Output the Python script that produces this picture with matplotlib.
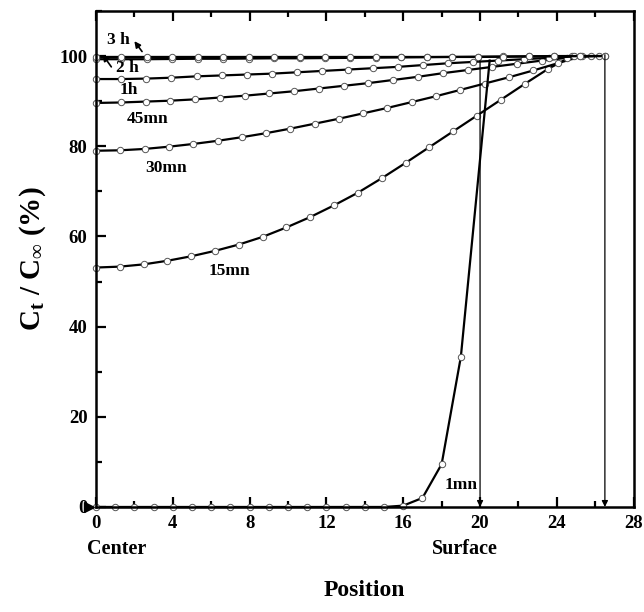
import matplotlib
matplotlib.use("Agg")
import matplotlib.pyplot as plt
from matplotlib.ticker import MultipleLocator

plt.rcParams['font.family'] = ['Liberation Serif', 'DejaVu Serif']
plt.rcParams['font.weight'] = 'bold'
plt.rcParams['mathtext.fontset'] = 'custom'
plt.rcParams['mathtext.rm'] = 'Liberation Serif:bold'
plt.rcParams['mathtext.it'] = 'Liberation Serif:bold'
plt.rcParams['mathtext.bf'] = 'Liberation Serif:bold'

# concentration profiles, position (mm) vs Ct/Cinf (%)
x_3h = [0, 1.33, 2.65, 3.98, 5.3, 6.63, 7.95, 9.28, 10.6, 11.93, 13.25, 14.58, 15.9,
        17.23, 18.55, 19.88, 21.2, 22.53, 23.85, 25.18, 26.5]
y_3h = [99.8, 99.8, 99.8, 99.8, 99.8, 99.8, 99.8, 99.8, 99.8, 99.8, 99.8, 99.8, 99.8,
        99.8, 99.8, 99.8, 99.85, 99.9, 99.95, 100, 100]

x_2h = [0, 1.33, 2.65, 3.98, 5.3, 6.63, 7.95, 9.28, 10.6, 11.93, 13.25, 14.58, 15.9,
        17.23, 18.55, 19.88, 21.2, 22.53, 23.85, 25.18, 26.5]
y_2h = [99.3, 99.3, 99.3, 99.35, 99.4, 99.4, 99.45, 99.5, 99.5, 99.55, 99.6, 99.65, 99.7,
        99.75, 99.8, 99.85, 99.9, 99.95, 100, 100, 100]

x_1h = [0, 1.31, 2.62, 3.93, 5.24, 6.55, 7.86, 9.17, 10.48, 11.79, 13.1, 14.41, 15.72,
        17.03, 18.34, 19.65, 20.96, 22.27, 23.58, 24.89, 26.2]
y_1h = [94.9, 94.9, 95.0, 95.2, 95.5, 95.7, 95.9, 96.1, 96.4, 96.7, 97.0, 97.3, 97.6,
        98.0, 98.4, 98.7, 99.0, 99.3, 99.6, 99.9, 100]

x_45 = [0, 1.29, 2.58, 3.87, 5.16, 6.45, 7.74, 9.03, 10.32, 11.61, 12.9, 14.19, 15.48,
        16.77, 18.06, 19.35, 20.64, 21.93, 23.22, 24.51, 25.8]
y_45 = [89.6, 89.7, 89.9, 90.1, 90.4, 90.8, 91.2, 91.7, 92.2, 92.8, 93.4, 94.0, 94.7,
        95.4, 96.2, 96.9, 97.6, 98.3, 99.0, 99.6, 100]

x_30 = [0, 1.27, 2.53, 3.8, 5.06, 6.33, 7.59, 8.86, 10.12, 11.39, 12.65, 13.92, 15.18,
        16.45, 17.71, 18.98, 20.24, 21.51, 22.77, 24.04, 25.3]
y_30 = [79.0, 79.1, 79.4, 79.9, 80.5, 81.2, 82.0, 82.9, 83.9, 85.0, 86.1, 87.3, 88.5,
        89.8, 91.1, 92.5, 93.9, 95.3, 96.8, 98.4, 100]

x_15 = [0, 1.24, 2.48, 3.72, 4.96, 6.2, 7.44, 8.68, 9.92, 11.16, 12.4, 13.64, 14.88,
        16.12, 17.36, 18.6, 19.84, 21.08, 22.32, 23.56, 24.8]
y_15 = [53.1, 53.3, 53.8, 54.6, 55.6, 56.8, 58.2, 59.9, 62.0, 64.3, 66.9, 69.7, 72.9,
        76.3, 79.8, 83.3, 86.8, 90.3, 93.8, 97.2, 100]

x_1mn = [0, 1, 2, 3, 4, 5, 6, 7, 8, 9, 10, 11, 12, 13, 14, 15, 16, 17, 18, 19, 20.5]
y_1mn = [0, 0, 0, 0, 0, 0, 0, 0, 0, 0, 0, 0, 0, 0, 0, 0, 0.3, 2.0, 9.5, 33.3, 99.0]

initial_surface = 20
final_surface = 26.5

fig = plt.figure(figsize=(6.44, 6.12), dpi=100)
ax = fig.add_axes([0.149, 0.1716, 0.835, 0.8105])

style = dict(color='black', lw=1.6, marker='o', ms=4.6, mfc='white',
             mec='#555555', mew=0.7)
for xs, ys in [(x_15, y_15), (x_30, y_30), (x_45, y_45), (x_1h, y_1h),
               (x_2h, y_2h), (x_3h, y_3h)]:
    ax.plot(xs, ys, clip_on=False, **style)
ax.plot(x_1mn, y_1mn, markevery=slice(0, -1), clip_on=False, **style)

# initial and final surface markers
for xs, top in [(initial_surface, 99), (final_surface, 100.3)]:
    ax.annotate('', xy=(xs, 0), xytext=(xs, top),
                arrowprops=dict(arrowstyle='-|>', color='black', lw=0.9,
                                mutation_scale=9, shrinkA=0, shrinkB=0))
ax.plot([-0.35], [0], marker='>', color='black', ms=7, clip_on=False)

# curve labels
lab = dict(fontsize=12.5, fontweight='bold', ha='center', va='center')
ax.text(1.15, 103.6, '3 h', **lab)
ax.annotate('', xy=(2.4, 101.0), xytext=(2.0, 103.3),
            arrowprops=dict(arrowstyle='<|-', color='black', lw=1.2,
                            mutation_scale=9, shrinkA=0, shrinkB=0))
ax.text(1.65, 97.3, '2 h', **lab)
ax.annotate('', xy=(0.35, 100.3), xytext=(0.8, 97.6),
            arrowprops=dict(arrowstyle='-|>', color='black', lw=1.2,
                            mutation_scale=9, shrinkA=0, shrinkB=0))
ax.text(1.7, 92.4, '1h', **lab)
ax.text(2.7, 86.0, '45mn', **lab)
ax.text(3.65, 75.2, '30mn', **lab)
ax.text(6.95, 52.3, '15mn', **lab)
ax.text(19.0, 4.9, '1mn', **lab)

ax.set_xlim(0, 28)
ax.set_ylim(0, 110)
ax.xaxis.set_major_locator(MultipleLocator(4))
ax.xaxis.set_minor_locator(MultipleLocator(2))
ax.yaxis.set_minor_locator(MultipleLocator(10))
ax.set_yticks([0, 20, 40, 60, 80, 100])
ax.tick_params(which='both', direction='in', top=True, right=False, width=1.6,
               labelsize=13.5, pad=6)
ax.tick_params(which='major', length=7)
ax.tick_params(which='minor', length=4)
for s in ax.spines.values():
    s.set_linewidth(1.8)
for t in ax.get_xticklabels() + ax.get_yticklabels():
    t.set_fontweight('bold')

trans = ax.get_xaxis_transform()
ax.text(-0.45, -0.085, 'Center', transform=trans, fontsize=14.5, fontweight='bold',
        ha='left', va='center')
ax.text(17.5, -0.085, 'Surface', transform=trans, fontsize=14.5, fontweight='bold',
        ha='left', va='center')
ax.set_xlabel('Position', fontsize=17, fontweight='bold', labelpad=34)
ax.set_ylabel(r'C$_\mathrm{t}$ / C$_\infty$ (%)', fontsize=21, fontweight='bold',
              labelpad=8)

fig.savefig('out.png', dpi=100)
